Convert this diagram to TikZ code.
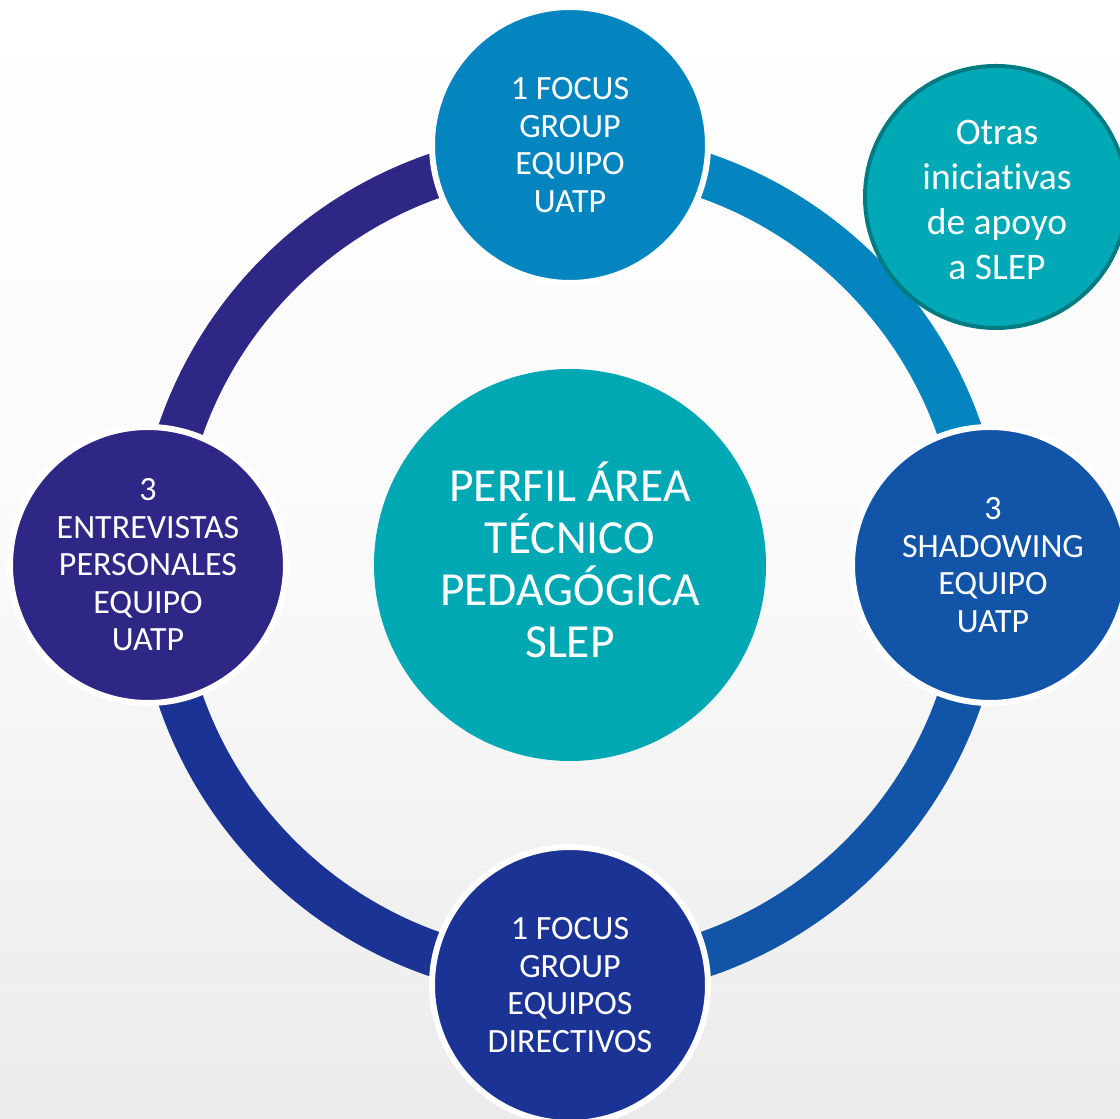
\documentclass[tikz,border=0pt]{standalone}
\usepackage{fontspec}
\setmainfont{Carlito}[Ligatures=NoCommon]
\definecolor{ctop}{HTML}{0585BF}
\definecolor{cright}{HTML}{1254A8}
\definecolor{cbottom}{HTML}{1B3394}
\definecolor{cleft}{HTML}{2E2785}
\definecolor{ccenter}{HTML}{00A8B4}
\definecolor{cotras}{HTML}{00A9B5}
\definecolor{cotrasb}{HTML}{007B82}
\definecolor{bgbot}{HTML}{EBEBEB}
\tikzset{
  ring/.style={line width=45pt, draw=#1},
  satcircle/.style={circle, fill=#1, draw=white, line width=6pt, minimum size=276pt,
    inner sep=0pt, text=white, align=center, font=\fontsize{34}{37.5}\selectfont},
  maincircle/.style={circle, fill=ccenter, minimum size=392pt, inner sep=0pt,
    text=white, align=center, font=\fontsize{47.5}{52}\selectfont},
  otrascircle/.style={circle, fill=cotras, draw=cotrasb, line width=4pt, minimum size=262pt,
    inner sep=0pt, text=white, align=center, font=\fontsize{37.5}{45}\selectfont}
}
\begin{document}
\begin{tikzpicture}[x=1pt,y=1pt]
\useasboundingbox (0,0) rectangle (1120,1119);
\clip (0,0) rectangle (1120,1119);
\shade[top color=white, bottom color=bgbot, middle color=white!75!bgbot] (0,0) rectangle (1120,1119);
\coordinate (C) at (570,554);
\draw[ring=ctop] (C) ++(90:412) arc[start angle=90, end angle=0, radius=412];
\draw[ring=cright] (C) ++(0:412) arc[start angle=0, end angle=-90, radius=412];
\draw[ring=cbottom] (C) ++(-90:412) arc[start angle=-90, end angle=-180, radius=412];
\draw[ring=cleft] (C) ++(180:412) arc[start angle=180, end angle=90, radius=412];
\node[satcircle=ctop] (top) at (570,974) {1 FOCUS\\GROUP\\EQUIPO\\UATP};
\node[satcircle=cright] (right) at (990,554) {};
\node[text=white, align=center, font=\fontsize{34}{37.5}\selectfont] (righttext) at (993,554) {3\\SHADOWING\\EQUIPO\\UATP};
\node[satcircle=cbottom] (bottom) at (570,134) {1 FOCUS\\GROUP\\EQUIPOS\\DIRECTIVOS};
\node[satcircle=cleft] (left) at (148,554) {3\\ENTREVISTAS\\PERSONALES\\EQUIPO\\UATP};
\node[maincircle] (center) at (C) {};
\node[text=white, align=center, font=\fontsize{47.5}{52}\selectfont] (centertext) at (570,559) {PERFIL ÁREA\\TÉCNICO\\PEDAGÓGICA\\SLEP};
\node[otrascircle] (otras) at (996,922) {};
\node[text=white, align=center, font=\fontsize{37.5}{45}\selectfont] (otrastext) at (997,919) {Otras\\iniciativas\\de apoyo\\a SLEP};
\end{tikzpicture}
\end{document}
